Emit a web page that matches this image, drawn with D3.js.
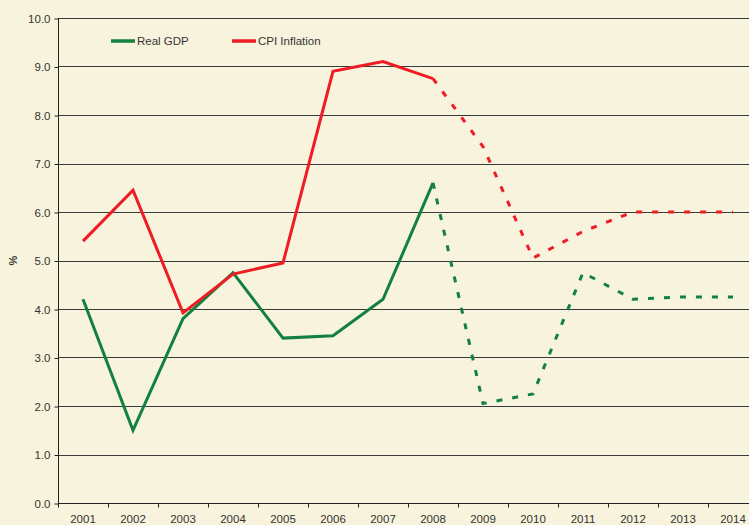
<!DOCTYPE html>
<html>
<head>
<meta charset="utf-8">
<script src="https://cdn.jsdelivr.net/npm/d3@7/dist/d3.min.js"></script>
<style>
html,body{margin:0;padding:0;background:#F8F3DC;}
svg{display:block;}
text{font-family:Arial,"Liberation Sans",sans-serif;fill:#333;}
</style>
</head>
<body>
<svg id="chart" width="749" height="525"></svg>
<script>
const years = ["2001","2002","2003","2004","2005","2006","2007","2008","2009","2010","2011","2012","2013","2014"];
const realGDP = [4.2, 1.5, 3.8, 4.75, 3.4, 3.45, 4.2, 6.6, 2.05, 2.25, 4.75, 4.2, 4.25, 4.25];
const cpiInflation = [5.4, 6.45, 3.92, 4.72, 4.95, 8.9, 9.1, 8.75, 7.35, 5.05, 5.6, 6.0, 6.0, 6.0];
const forecastFrom = "2008";
const yTicks = [0,1,2,3,4,5,6,7,8,9,10];
const seriesNames = ["Real GDP", "CPI Inflation"];
const seriesColors = ["#128040", "#EE1C25"];

const svg = d3.select("#chart");
const W = 749, H = 525;
const m = {left:58, top:18, bottom:503, right:758};

const x = d3.scaleBand().domain(years).range([m.left, m.right]).padding(0);
const y = d3.scaleLinear().domain([0,10]).range([m.bottom, m.top]);

svg.append("rect").attr("width",W).attr("height",H).attr("fill","#F8F3DC");

// gridlines
svg.append("g").selectAll("line").data(yTicks.filter(d=>d>0)).join("line")
  .attr("x1", m.left).attr("x2", W)
  .attr("y1", d=>Math.round(y(d))+0.5).attr("y2", d=>Math.round(y(d))+0.5)
  .attr("stroke","#3a3a3a").attr("stroke-width",1);

// y axis
const yAxis = d3.axisLeft(y).tickValues(yTicks).tickFormat(d3.format(".1f")).tickSize(4).tickPadding(4);
const gy = svg.append("g").attr("transform",`translate(${m.left+0.5},0.5)`).call(yAxis);
gy.selectAll("text").style("font-size","11.5px").attr("fill","#333");
gy.selectAll("line").attr("stroke","#222");
gy.select(".domain").attr("stroke","#222").attr("d",`M0,${y(10)}V${y(0)}`);

// x axis
const xAxis = d3.axisBottom(x).tickSize(0).tickPadding(11);
const gx = svg.append("g").attr("transform",`translate(0,${Math.round(y(0))+0.5})`).call(xAxis);
gx.selectAll("text").style("font-size","11.5px").attr("fill","#333");
gx.select(".domain").attr("stroke","#222").attr("d",`M${m.left},0H${W}`);
gx.selectAll(".bt").data(years).join("line").attr("class","bt")
  .attr("x1",d=>Math.round(x(d))+0.5).attr("x2",d=>Math.round(x(d))+0.5)
  .attr("y1",0).attr("y2",4).attr("stroke","#222");

// y label
svg.append("text").attr("transform",`translate(17,${(m.top+m.bottom)/2}) rotate(-90)`)
  .attr("text-anchor","middle").style("font-size","11px").style("font-weight","bold").text("%");

const fi = years.indexOf(forecastFrom);
const line = d3.line().x(d=>x(d.year)+x.bandwidth()/2).y(d=>y(d.v));
[realGDP, cpiInflation].forEach((vals,i)=>{
  const pts = vals.map((v,j)=>({year:years[j], v}));
  svg.append("path").datum(pts.slice(0,fi+1)).attr("d",line)
    .attr("fill","none").attr("stroke",seriesColors[i]).attr("stroke-width",3).attr("stroke-linejoin","miter");
  svg.append("path").datum(pts.slice(fi)).attr("d",line)
    .attr("fill","none").attr("stroke",seriesColors[i]).attr("stroke-width",3).attr("stroke-dasharray","6,10");
});

// legend
const legX = [111, 232];
seriesNames.forEach((n,i)=>{
  svg.append("line").attr("x1",legX[i]).attr("x2",legX[i]+24).attr("y1",41).attr("y2",41)
    .attr("stroke",seriesColors[i]).attr("stroke-width",3.5);
  svg.append("text").attr("x",legX[i]+26).attr("y",45).style("font-size","11.5px").text(n);
});
</script>
</body>
</html>
